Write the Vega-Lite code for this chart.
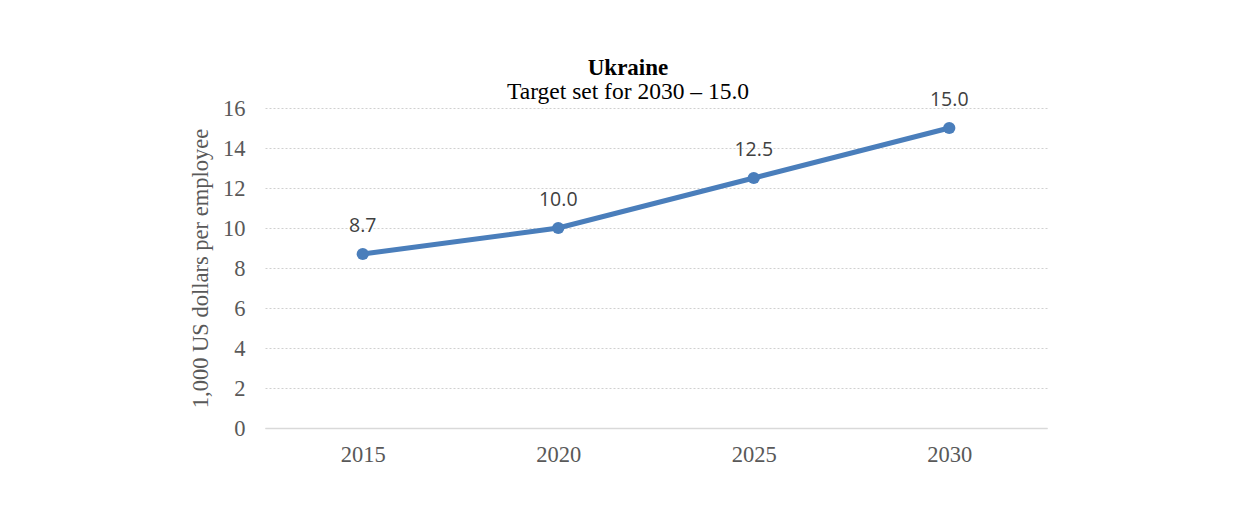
{
  "$schema": "https://vega.github.io/schema/vega-lite/v6.json",
  "autosize": {"type": "none"},
  "width": 782,
  "height": 320,
  "padding": {"left": 265, "top": 108, "right": 192, "bottom": 83},
  "background": "white",
  "config": {"view": {"stroke": null}},
  "title": {
    "text": "Ukraine",
    "subtitle": "Target set for 2030 – 15.0",
    "font": "Liberation Serif",
    "fontSize": 23,
    "fontWeight": "bold",
    "color": "#000000",
    "subtitleFont": "Liberation Serif",
    "subtitleFontSize": 23.5,
    "subtitleColor": "#000000",
    "subtitlePadding": 0,
    "offset": -13,
    "dx": -28,
    "anchor": "middle"
  },
  "data": {
    "values": [
      {"year": "2015", "value": 8.7},
      {"year": "2020", "value": 10.0},
      {"year": "2025", "value": 12.5},
      {"year": "2030", "value": 15.0}
    ]
  },
  "encoding": {
    "x": {
      "field": "year",
      "type": "ordinal",
      "scale": {"type": "point", "padding": 0.5},
      "axis": {
        "title": null,
        "labelAngle": 0,
        "labelFont": "Liberation Serif",
        "labelFontSize": 22.5,
        "labelColor": "#595959",
        "labelPadding": 15,
        "ticks": false,
        "domain": true,
        "domainColor": "#d9d9d9",
        "domainWidth": 1.5,
        "grid": false
      }
    },
    "y": {
      "field": "value",
      "type": "quantitative",
      "scale": {"domain": [0, 16], "nice": false},
      "axis": {
        "values": [0, 2, 4, 6, 8, 10, 12, 14, 16],
        "title": "1,000 US dollars per employee",
        "titleFont": "Liberation Serif",
        "titleFontSize": 22.5,
        "titleFontWeight": "normal",
        "titleColor": "#595959",
        "titlePadding": 10,
        "labelFont": "Liberation Serif",
        "labelFontSize": 22.5,
        "labelColor": "#595959",
        "labelPadding": 20,
        "ticks": false,
        "domain": false,
        "grid": true,
        "gridColor": "#d0d0d0",
        "gridDash": [2, 2],
        "gridWidth": 1
      }
    }
  },
  "layer": [
    {
      "mark": {"type": "line", "color": "#4a7ebb", "strokeWidth": 5, "point": {"filled": true, "size": 150, "color": "#4a7ebb"}}
    },
    {
      "mark": {"type": "text", "dy": -28, "font": "Open Sans", "fontSize": 19.5, "color": "#404040", "baseline": "middle"},
      "encoding": {"text": {"field": "value", "type": "quantitative", "format": ".1f"}}
    }
  ]
}
